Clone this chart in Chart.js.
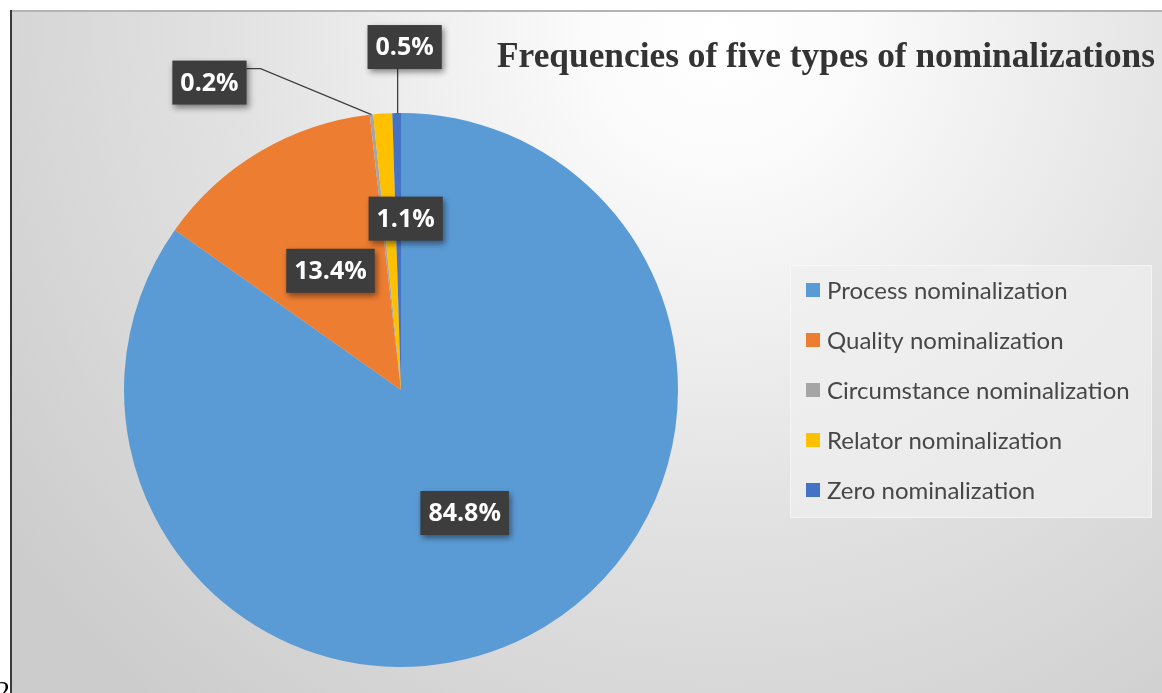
<!DOCTYPE html>
<html>
<head>
<meta charset="utf-8">
<script src="https://cdn.jsdelivr.net/npm/chart.js@4.4.0/dist/chart.umd.min.js"></script>
<style>
  html, body { margin: 0; padding: 0; background: #ffffff; overflow: hidden; }
  #wrap { position: relative; width: 1162px; height: 693px; }
  canvas { display: block; }
</style>
</head>
<body>
<div id="wrap"><canvas id="c" width="1162" height="693"></canvas></div>
<script>
// ---- data ----
const categories = [
  'Process nominalization',
  'Quality nominalization',
  'Circumstance nominalization',
  'Relator nominalization',
  'Zero nominalization'
];
const percentages = [84.8, 13.4, 0.2, 1.1, 0.5];
const sliceColors = ['#5B9BD5', '#ED7D31', '#A5A5A5', '#FFC000', '#4472C4'];
const chartTitle = 'Frequencies of five types of nominalizations';

// label placement (style config, not data)
const labelPlacement = [
  { mode: 'inside', frac: 0.50, dx: 0, dy: 0 },
  { mode: 'inside', frac: 0.50, dx: 0, dy: 0 },
  { mode: 'elbow', bx: -162, by: -32 },
  { mode: 'inside', frac: 0.62, dx: 16, dy: 0 },
  { mode: 'vertical', bx: 8, by: -66 }
];

const W = 1162, H = 693;

const backgroundPlugin = {
  id: 'bg',
  beforeDraw(chart) {
    const ctx = chart.ctx;
    ctx.save();
    ctx.fillStyle = '#ffffff';
    ctx.fillRect(0, 0, W, H);
    const g = ctx.createRadialGradient(720, 30, 0, 720, 30, 880);
    g.addColorStop(0, '#ffffff');
    g.addColorStop(0.15, '#fbfbfb');
    g.addColorStop(0.55, '#e2e2e2');
    g.addColorStop(1, '#cccccc');
    ctx.fillStyle = g;
    ctx.fillRect(11, 11, W - 11, H - 11);
    // top gray line
    ctx.fillStyle = '#b4b4b4';
    ctx.fillRect(10, 10, W - 10, 2);
    // left dark line
    ctx.fillStyle = '#3a3a3a';
    ctx.fillRect(10, 10, 2, H - 10);
    // legend box
    ctx.fillStyle = 'rgba(240,240,240,0.7)';
    ctx.fillRect(790, 265, 362, 253);
    ctx.strokeStyle = 'rgba(255,255,255,0.45)';
    ctx.lineWidth = 1;
    ctx.strokeRect(790.5, 265.5, 361, 252);
    // stray character at bottom-left
    ctx.fillStyle = '#000000';
    ctx.font = '28px "Liberation Serif", serif';
    ctx.textBaseline = 'alphabetic';
    ctx.fillText('2', -4, 700);
    ctx.restore();
  }
};

const overlayPlugin = {
  id: 'overlay',
  afterDatasetsDraw(chart) {
    const ctx = chart.ctx;
    const meta = chart.getDatasetMeta(0);
    ctx.save();

    // Title
    ctx.font = 'bold 35px "Liberation Serif", "Times New Roman", serif';
    ctx.fillStyle = '#333333';
    ctx.textBaseline = 'alphabetic';
    const tw = ctx.measureText(chartTitle).width;
    const targetW = 658;
    ctx.save();
    ctx.translate(497, 67);
    ctx.scale(targetW / tw, 1);
    ctx.fillText(chartTitle, 0, 0);
    ctx.restore();

    // Legend
    ctx.font = '24px Lato, "Open Sans", sans-serif';
    ctx.textBaseline = 'middle';
    categories.forEach((name, i) => {
      const cy = 290 + i * 50;
      ctx.fillStyle = sliceColors[i];
      ctx.fillRect(806, cy - 7, 14, 14);
      ctx.fillStyle = '#474747';
      ctx.fillText(name, 827, cy + 1);
    });

    // Data labels
    ctx.font = 'bold 25px "Open Sans", sans-serif';
    meta.data.forEach((arc, i) => {
      const p = arc.getProps(['x', 'y', 'startAngle', 'endAngle', 'outerRadius'], true);
      const mid = (p.startAngle + p.endAngle) / 2;
      const text = percentages[i].toFixed(1) + '%';
      const tW = ctx.measureText(text).width;
      const bw = tW + 16, bh = 44;
      const pl = labelPlacement[i];
      let cx, cy;
      const ax = p.x + Math.cos(mid) * p.outerRadius;
      const ay = p.y + Math.sin(mid) * p.outerRadius;
      if (pl.mode === 'inside') {
        cx = p.x + Math.cos(mid) * p.outerRadius * pl.frac + pl.dx;
        cy = p.y + Math.sin(mid) * p.outerRadius * pl.frac + pl.dy;
      } else {
        cx = ax + pl.bx;
        cy = ay + pl.by;
        ctx.strokeStyle = '#404040';
        ctx.lineWidth = 1.3;
        ctx.beginPath();
        if (pl.mode === 'elbow') {
          const ey = cy - bh / 2 + 8;
          const ex = cx + bw / 2 + 14;
          ctx.moveTo(ax, ay);
          ctx.lineTo(ex, ey);
          ctx.lineTo(cx + bw / 2, ey);
        } else {
          ctx.moveTo(ax + 1, ay);
          ctx.lineTo(ax + 1, cy + bh / 2);
        }
        ctx.stroke();
      }
      ctx.save();
      ctx.shadowColor = 'rgba(0,0,0,0.45)';
      ctx.shadowBlur = 6;
      ctx.shadowOffsetX = 2;
      ctx.shadowOffsetY = 3;
      ctx.fillStyle = '#3d3d3d';
      ctx.fillRect(cx - bw / 2, cy - bh / 2, bw, bh);
      ctx.restore();
      ctx.fillStyle = '#ffffff';
      ctx.textAlign = 'center';
      ctx.textBaseline = 'middle';
      ctx.fillText(text, cx, cy + 1);
      ctx.textAlign = 'left';
    });
    ctx.restore();
  }
};

new Chart(document.getElementById('c'), {
  type: 'pie',
  data: {
    labels: categories,
    datasets: [{
      data: percentages,
      backgroundColor: sliceColors,
      borderWidth: 0
    }]
  },
  options: {
    responsive: false,
    animation: false,
    devicePixelRatio: 1,
    rotation: 0,
    layout: { padding: { left: 124, right: 484, top: 113, bottom: 26 } },
    plugins: {
      legend: { display: false },
      title: { display: false },
      tooltip: { enabled: false }
    }
  },
  plugins: [backgroundPlugin, overlayPlugin]
});
</script>
</body>
</html>
